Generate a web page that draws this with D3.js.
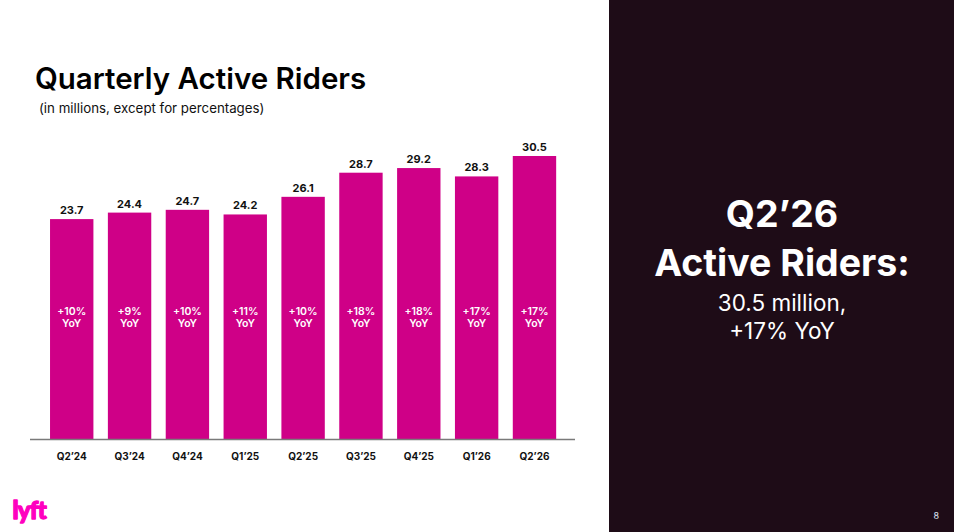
<!DOCTYPE html>
<html>
<head>
<meta charset="utf-8">
<script src="https://cdn.jsdelivr.net/npm/d3@7"></script>
<style>
  html, body { margin: 0; padding: 0; background: #ffffff; }
  svg { display: block; font-family: Inter, "Noto Sans", sans-serif; }
</style>
</head>
<body>
<svg id="chart" width="954" height="532"></svg>
<script>
const quarters = ["Q2\u201924", "Q3\u201924", "Q4\u201924", "Q1\u201925", "Q2\u201925", "Q3\u201925", "Q4\u201925", "Q1\u201926", "Q2\u201926"];
const riders = [23.7, 24.4, 24.7, 24.2, 26.1, 28.7, 29.2, 28.3, 30.5];
const yoy = ["+10%", "+9%", "+10%", "+11%", "+10%", "+18%", "+18%", "+17%", "+17%"];

const svg = d3.select("#chart");
const W = 954, H = 532;
const pink = "#cf0087";

// right dark panel
svg.append("rect").attr("x", 609).attr("y", 0).attr("width", W - 609).attr("height", H).attr("fill", "#1e0c17");

// title
svg.append("text").attr("x", 35).attr("y", 89)
  .attr("font-size", 29.5).attr("font-weight", 600).attr("fill", "#000")
  .text("Quarterly Active Riders");
svg.append("text").attr("x", 39).attr("y", 113)
  .attr("font-size", 13.3).attr("fill", "#111")
  .text("(in millions, except for percentages)");

const x = d3.scaleBand().domain(quarters).range([42.8, 563.4]).paddingInner(0.25).paddingOuter(0.125);
const y = d3.scaleLinear().domain([0, 30.5]).range([439, 156]);

const g = svg.append("g");
g.selectAll("rect.bar").data(riders).join("rect")
  .attr("class", "bar")
  .attr("x", (d, i) => x(quarters[i]))
  .attr("width", x.bandwidth())
  .attr("y", d => y(d))
  .attr("height", d => y(0) - y(d))
  .attr("fill", pink);

// value labels
g.selectAll("text.val").data(riders).join("text")
  .attr("class", "val")
  .attr("x", (d, i) => x(quarters[i]) + x.bandwidth() / 2)
  .attr("y", d => y(d) - 5)
  .attr("text-anchor", "middle")
  .attr("font-size", 11).attr("font-weight", 700).attr("fill", "#111")
  .text(d => d.toFixed(1));

// YoY labels inside bars
const inner = g.selectAll("text.yoy").data(yoy).join("text")
  .attr("class", "yoy")
  .attr("x", (d, i) => x(quarters[i]) + x.bandwidth() / 2)
  .attr("y", 315)
  .attr("text-anchor", "middle")
  .attr("font-size", 10.5).attr("font-weight", 600).attr("fill", "#fff");
inner.append("tspan").attr("x", (d, i) => x(quarters[i]) + x.bandwidth() / 2).text(d => d);
inner.append("tspan").attr("x", (d, i) => x(quarters[i]) + x.bandwidth() / 2).attr("dy", 12).text("YoY");

// x axis
const xAxis = d3.axisBottom(x).tickSize(0).tickPadding(14);
const ax = svg.append("g").attr("transform", "translate(0,439)").call(xAxis);
ax.select(".domain").remove();
ax.selectAll("text").attr("font-size", 10).attr("font-weight", 700).attr("fill", "#111")
  .attr("font-family", "Inter, sans-serif");
svg.append("line").attr("x1", 30).attr("x2", 575).attr("y1", 439.5).attr("y2", 439.5)
  .attr("stroke", "#7a7a7a").attr("stroke-width", 1.5);

// right panel text
const cx = 782;
svg.append("text").attr("x", cx).attr("y", 227).attr("text-anchor", "middle")
  .attr("font-size", 37.5).attr("font-weight", 700).attr("fill", "#fff").text("Q2\u201926");
svg.append("text").attr("x", cx).attr("y", 276).attr("text-anchor", "middle")
  .attr("font-size", 37.5).attr("font-weight", 700).attr("fill", "#fff").text("Active Riders:");
svg.append("text").attr("x", cx).attr("y", 311).attr("text-anchor", "middle")
  .attr("font-size", 22.5).attr("font-weight", 400).attr("fill", "#fff").text("30.5 million,");
svg.append("text").attr("x", cx).attr("y", 339).attr("text-anchor", "middle")
  .attr("font-size", 22.5).attr("font-weight", 400).attr("fill", "#fff").text("+17% YoY");

// page number
svg.append("text").attr("x", 939).attr("y", 519).attr("text-anchor", "end")
  .attr("font-size", 9).attr("fill", "#dfe6f5").text("8");

// logo
svg.append("text").attr("x", 12.5).attr("y", 519)
  .attr("font-size", 24).attr("font-weight", 900).attr("fill", "#ff00bf")
  .attr("stroke", "#ff00bf").attr("stroke-width", 1.3).attr("stroke-linejoin", "round")
  .attr("letter-spacing", -0.8)
  .attr("font-family", "Lato, sans-serif")
  .text("lyft");
</script>
</body>
</html>
